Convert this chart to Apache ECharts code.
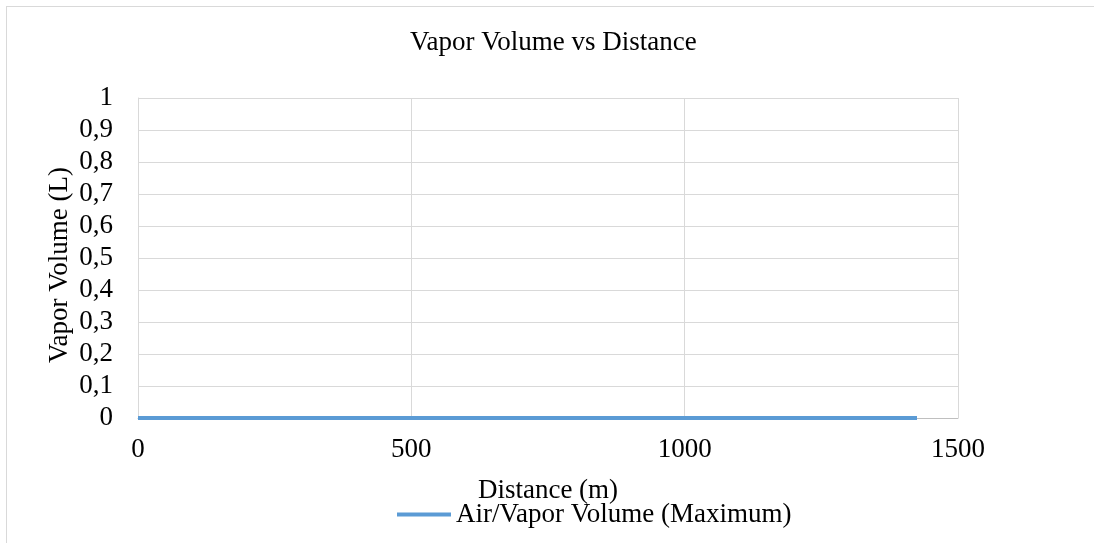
<!DOCTYPE html>
<html>
<head>
<meta charset="utf-8">
<script src="https://cdn.jsdelivr.net/npm/echarts@6/dist/echarts.min.js"></script>
<style>
  html, body { margin: 0; padding: 0; background: #fff; }
  #frame { position: absolute; left: 6px; top: 6px; width: 1200px; height: 600px; border: 1px solid #d9d9d9; box-sizing: border-box; }
  #chart { position: absolute; left: 0; top: 0; width: 1094px; height: 543px; }
</style>
</head>
<body>
<div id="frame"></div>
<div id="chart"></div>
<script>
// data
var distance = [0, 250, 500, 750, 1000, 1250, 1425];
var vaporVolume = [0, 0, 0, 0, 0, 0, 0];
var seriesName = 'Air/Vapor Volume (Maximum)';

var points = [];
for (var i = 0; i < distance.length; i++) {
  points.push([distance[i], vaporVolume[i]]);
}

var font = '"Liberation Serif", "Times New Roman", serif';
var myChart = echarts.init(document.getElementById('chart'));
var option = {
  animation: false,
  textStyle: { fontFamily: font },
  title: {
    text: 'Vapor Volume vs Distance',
    left: 405,
    top: 24,
    textStyle: { fontFamily: font, fontSize: 27, fontWeight: 'normal', color: '#000' }
  },
  grid: { left: 138, right: 136, top: 98, bottom: 125 },
  legend: {
    bottom: 10,
    left: 392,
    itemWidth: 54,
    itemHeight: 4,
    itemGap: 4,
    icon: 'rect',
    textStyle: { fontFamily: font, fontSize: 27, color: '#000' },
    data: [seriesName]
  },
  xAxis: {
    type: 'value',
    min: 0,
    max: 1500,
    interval: 500,
    name: 'Distance (m)',
    nameLocation: 'middle',
    nameGap: 59,
    nameTextStyle: { fontFamily: font, fontSize: 27, color: '#000' },
    axisLine: { show: true, lineStyle: { color: '#bfbfbf', width: 1 } },
    axisTick: { show: false },
    axisLabel: {
      fontFamily: font, fontSize: 27, color: '#000', margin: 18,
      formatter: function (v) { return String(v); }
    },
    splitLine: { show: true, lineStyle: { color: '#d9d9d9', width: 1 } }
  },
  yAxis: {
    type: 'value',
    min: 0,
    max: 1,
    interval: 0.1,
    name: 'Vapor Volume (L)',
    nameLocation: 'middle',
    nameGap: 65,
    nameMoveOverlap: false,
    nameTextStyle: { fontFamily: font, fontSize: 27, color: '#000', padding: [0, 14, 0, 0] },
    axisLine: { show: true, lineStyle: { color: '#d9d9d9', width: 1 } },
    axisTick: { show: false },
    axisLabel: {
      fontFamily: font, fontSize: 27, color: '#000', margin: 25,
      formatter: function (v) { return String(Math.round(v * 10) / 10).replace('.', ','); }
    },
    splitLine: { show: true, lineStyle: { color: '#d9d9d9', width: 1 } }
  },
  series: [{
    name: seriesName,
    type: 'line',
    data: points,
    symbol: 'none',
    lineStyle: { color: '#5b9bd5', width: 4 },
    itemStyle: { color: '#5b9bd5' }
  }]
};
myChart.setOption(option);
</script>
</body>
</html>
